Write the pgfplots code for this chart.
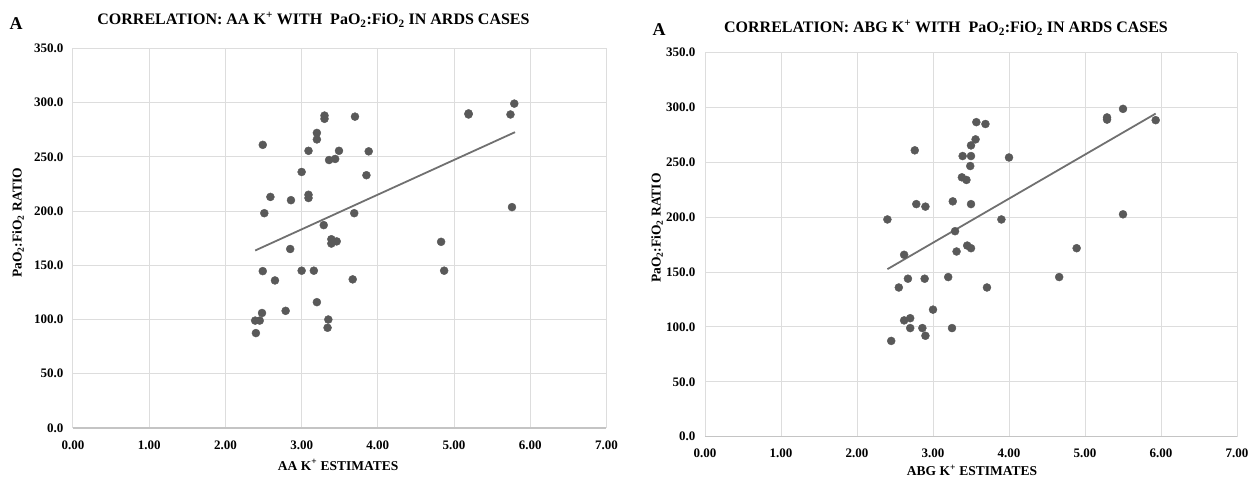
\documentclass[border=0pt]{standalone}
\usepackage{pgfplots}
\pgfplotsset{compat=1.18}
\usepackage{fontspec}
\setmainfont{Liberation Serif}
\definecolor{ptc}{HTML}{595959}
\definecolor{tlc}{HTML}{707070}
\definecolor{grc}{HTML}{DDDDDD}
\definecolor{axc}{HTML}{C4C4C4}

\pgfplotstableread{
x y
2.49 261
3.30 288
3.30 285
3.70 287
3.20 272
3.20 266
3.09 255.5
3.49 255.5
3.88 255
3.36 247
3.44 248
3.00 236
3.85 233
2.59 213
2.86 210
3.09 215
3.09 212
2.51 198
3.69 198
3.29 187
3.39 174
3.39 170
3.46 172
2.85 165
2.49 144.6
3.00 145
3.16 145
2.65 136
3.67 137
3.20 116
2.79 108
2.48 106
2.39 99
2.45 99
3.35 100
3.34 92.4
2.40 87.5
5.19 290
5.19 289
5.74 289
5.79 299
5.76 203.6
4.83 171.6
4.87 145
}\aatable

\pgfplotstableread{
x y
3.57 286.7
3.69 285
5.50 298.8
5.29 291
5.29 289
5.93 288.5
3.56 271
3.50 265.5
2.76 261
3.39 255.8
3.50 255.8
4.00 254.5
3.49 246.7
3.38 236.4
3.44 234
3.26 214.5
3.50 212
2.78 212
2.90 209.7
2.40 198
3.90 198
5.50 202.7
3.29 187.3
3.45 174.2
3.50 171.8
3.31 168.8
4.89 171.8
2.62 165.8
2.67 144
2.89 144
3.20 145.5
2.55 136
3.71 136
4.66 145.5
3.00 115.8
2.62 106
2.70 108
2.70 99
2.86 99
3.25 99
2.90 92
2.45 87.3
}\abgtable

\pgfplotsset{myax/.style={
  scale only axis,
  xmin=0, xmax=7, ymin=0, ymax=350,
  xtick={0,1,...,7}, ytick={0,50,...,350},
  grid=major, major grid style={grc, line width=1pt},
  axis x line*=bottom, axis y line*=left,
  x axis line style={axc, line width=1.2pt, -},
  y axis line style={draw=none},
  major tick length=0pt,
  /pgf/number format/assume math mode=true,
  tick label style={font=\fontsize{13}{15}\selectfont\bfseries},
  x tick label style={/pgf/number format/.cd, fixed, fixed zerofill, precision=2, /tikz/.cd, yshift=-9pt},
  y tick label style={/pgf/number format/.cd, fixed, fixed zerofill, precision=1, 1000 sep={}, /tikz/.cd, xshift=-6pt},
  label style={font=\fontsize{13.5}{15}\selectfont\bfseries},
  ylabel style={rotate=0, anchor=center},
  xlabel style={anchor=center},
  clip=false,
}}

\begin{document}
\begin{tikzpicture}
\useasboundingbox (0,0) rectangle (1252pt,481pt);

\begin{axis}[myax, at={(73pt,53pt)}, anchor=south west, width=533.5pt, height=379.7pt,
  ylabel={PaO\textsubscript{2}:FiO\textsubscript{2} RATIO},
  xlabel={AA K\textsuperscript{+} ESTIMATES},
  ylabel style={at={(axis description cs:-0.103,0.54)}},
  xlabel style={at={(axis description cs:0.497,-0.097)}},
]
\addplot[only marks, mark=*, mark size=4pt, mark options={fill=ptc, draw=ptc}] table[x=x,y=y] {\aatable};
\addplot[tlc, line width=1.8pt, mark=none] coordinates {(2.39,163.6) (5.80,272.7)};
\end{axis}

\begin{axis}[myax, at={(705pt,44.3pt)}, anchor=south west, width=532pt, height=384pt,
  ylabel={PaO\textsubscript{2}:FiO\textsubscript{2} RATIO},
  xlabel={ABG K\textsuperscript{+} ESTIMATES},
  ylabel style={at={(axis description cs:-0.09,0.543)}},
  xlabel style={at={(axis description cs:0.502,-0.087)}},
]
\addplot[only marks, mark=*, mark size=4pt, mark options={fill=ptc, draw=ptc}] table[x=x,y=y] {\abgtable};
\addplot[tlc, line width=1.8pt, mark=none] coordinates {(2.40,152.7) (5.93,294.5)};
\end{axis}

\node[font=\fontsize{18}{20}\selectfont\bfseries] at (16pt,457pt) {A};
\node[font=\fontsize{16}{18}\selectfont\bfseries] at (313.5pt,461pt) {CORRELATION: AA K\textsuperscript{+} WITH\ \ PaO\textsubscript{2}:FiO\textsubscript{2} IN ARDS CASES};
\node[font=\fontsize{18}{20}\selectfont\bfseries] at (659pt,451pt) {A};
\node[font=\fontsize{16}{18}\selectfont\bfseries] at (946pt,453pt) {CORRELATION: ABG K\textsuperscript{+} WITH\ \ PaO\textsubscript{2}:FiO\textsubscript{2} IN ARDS CASES};
\end{tikzpicture}
\end{document}
